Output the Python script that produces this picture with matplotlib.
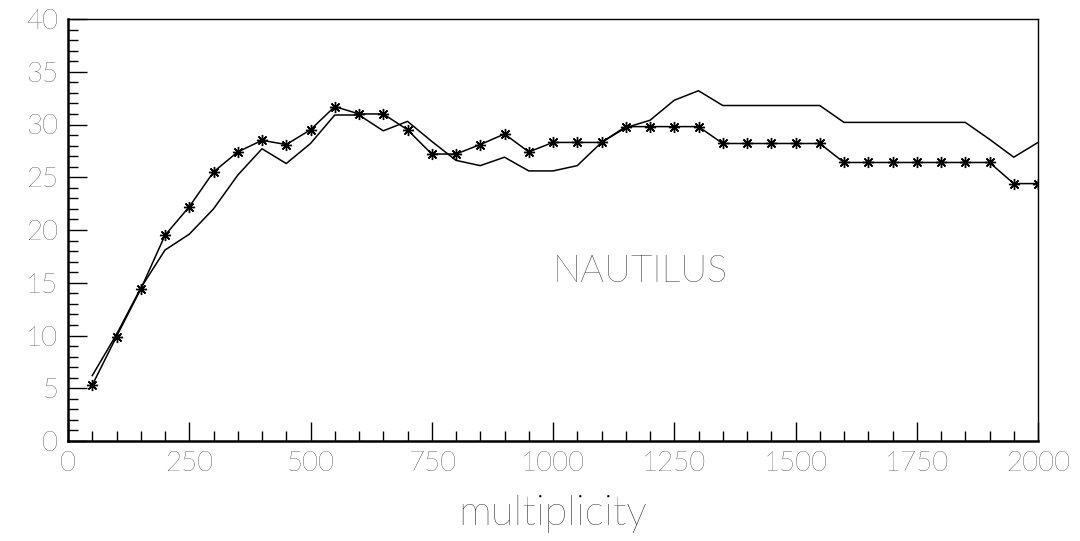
import numpy as np
import matplotlib.pyplot as plt
from matplotlib.ticker import MultipleLocator

plt.rcParams['font.family'] = ['Lato', 'DejaVu Sans']
plt.rcParams['font.weight'] = 'light'

# multiplicity bins
mult = np.arange(50, 2001, 50)

# series with asterisk markers
star_vals = [5.3, 9.9, 14.4, 19.5, 22.2, 25.5, 27.4, 28.5, 28.1, 29.5,
             31.7, 31.0, 31.0, 29.5, 27.2, 27.2, 28.1, 29.1, 27.4, 28.3,
             28.3, 28.3, 29.8, 29.8, 29.8, 29.8, 28.2, 28.2, 28.2, 28.2,
             28.2, 26.4, 26.4, 26.4, 26.4, 26.4, 26.4, 26.4, 24.4, 24.4]

# plain line series
line_vals = [6.2, 10.1, 14.5, 18.1, 19.6, 22.0, 25.2, 27.7, 26.3, 28.2,
             30.9, 30.9, 29.4, 30.3, 28.4, 26.6, 26.1, 26.9, 25.6, 25.6,
             26.1, 28.3, 29.7, 30.4, 32.3, 33.2, 31.8, 31.8, 31.8, 31.8,
             31.8, 30.2, 30.2, 30.2, 30.2, 30.2, 30.2, 28.6, 26.9, 28.3]

fig = plt.figure(figsize=(10.8, 5.41), dpi=100)
ax = fig.add_axes([68 / 1080, 100 / 541, 970 / 1080, 422 / 541])

ax.plot(mult, line_vals, color='black', lw=1.1)
ax.plot(mult, star_vals, color='black', lw=1.1, marker=(8, 2, 0),
        markersize=8, markeredgewidth=1.0)

ax.set_xlim(0, 2000)
ax.set_ylim(0, 40)
ax.xaxis.set_major_locator(MultipleLocator(250))
ax.xaxis.set_minor_locator(MultipleLocator(50))
ax.yaxis.set_major_locator(MultipleLocator(5))
ax.yaxis.set_minor_locator(MultipleLocator(1))

ax.tick_params(which='both', direction='in', top=False, right=False,
               labelsize=20, width=1.0, colors='black')
ax.tick_params(which='major', length=14, pad=7)
ax.tick_params(which='minor', length=7)

for side in ['left', 'bottom']:
    ax.spines[side].set_linewidth(1.8)
for side in ['top', 'right']:
    ax.spines[side].set_linewidth(1.0)

ax.set_xlabel('multiplicity', fontsize=30, labelpad=14, fontweight='light')
ax.text(1180, 16, 'NAUTILUS', fontsize=27, ha='center', va='center',
        fontweight='light')

fig.savefig('out.png', dpi=100)
